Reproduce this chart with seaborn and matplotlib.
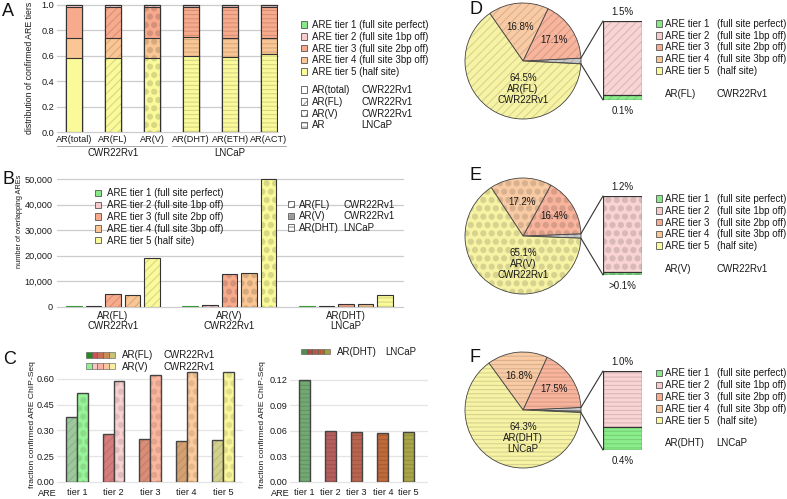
import matplotlib
matplotlib.use('Agg')
import matplotlib.pyplot as plt
import matplotlib.hatch as mhatch
import matplotlib.colors as mcolors
import matplotlib.transforms as mtransforms
from matplotlib.patches import Patch, ConnectionPatch
from matplotlib.lines import Line2D
from matplotlib.legend_handler import HandlerTuple
import seaborn as sns
import pandas as pd
import numpy as np

# ---------------- data ----------------
TIER_NAMES = ['ARE tier 1', 'ARE tier 2', 'ARE tier 3', 'ARE tier 4', 'ARE tier 5']
TIER_DESC = ['(full site perfect)', '(full site 1bp off)', '(full site 2bp off)',
             '(full site 3bp off)', '(half site)']
TIER_COLORS = ['#86E886', '#F9CACA', '#F8AA8C', '#FAC693', '#FAFA9A']

# Panel A: distribution of confirmed ARE tiers
A_SAMPLES = ['AR(total)', 'AR(FL)', 'AR(V)', 'AR(DHT)', 'AR(ETH)', 'AR(ACT)']
A_CELLS = ['CWR22Rv1', 'CWR22Rv1', 'CWR22Rv1', 'LNCaP', 'LNCaP', 'LNCaP']
A_TIER1 = [0.004, 0.004, 0.005, 0.005, 0.005, 0.005]
A_TIER2 = [0.011, 0.011, 0.010, 0.010, 0.010, 0.010]
A_TIER3 = [0.250, 0.250, 0.250, 0.240, 0.245, 0.245]
A_TIER4 = [0.150, 0.150, 0.150, 0.150, 0.150, 0.125]
A_TIER5 = [0.585, 0.585, 0.585, 0.595, 0.590, 0.615]
A_LEG2_NAMES = ['AR(total)', 'AR(FL)', 'AR(V)', 'AR']
A_LEG2_CELLS = ['CWR22Rv1', 'CWR22Rv1', 'CWR22Rv1', 'LNCaP']

# Panel B: number of overlapping AREs
B_SAMPLES = ['AR(FL)\nCWR22Rv1', 'AR(V)\nCWR22Rv1', 'AR(DHT)\nLNCaP']
B_TIER1 = [200, 350, 150]
B_TIER2 = [350, 800, 200]
B_TIER3 = [5000, 12700, 1100]
B_TIER4 = [4750, 13100, 1100]
B_TIER5 = [19250, 50300, 4600]
B_LEG2_NAMES = ['AR(FL)', 'AR(V)', 'AR(DHT)']
B_LEG2_CELLS = ['CWR22Rv1', 'CWR22Rv1', 'LNCaP']

# Panel C: fraction confirmed ARE ChIP-Seq
C_TIERS = ['tier 1', 'tier 2', 'tier 3', 'tier 4', 'tier 5']
C_FL = [0.376, 0.280, 0.248, 0.238, 0.242]
C_V = [0.516, 0.586, 0.625, 0.640, 0.640]
C_DHT = [0.120, 0.060, 0.0585, 0.058, 0.0585]
C_LEFT_YTICKLABELS = ['0.00', '0.25', '0.30', '0.45', '0.60']
C_FL_COLORS = ['#9CC89C', '#D67C7C', '#D98C76', '#D4A070', '#D2D08C']
C_V_COLORS = ['#98F498', '#F9D0D0', '#FBB69E', '#FBCB9C', '#FAF79A']
C_DHT_COLORS = ['#72A872', '#B65E5E', '#B8644F', '#C0693A', '#A8A546']
C_FL_LEG = ['#1E8C1E', '#C85454', '#C86C54', '#C88C54', '#C8C274']
C_V_LEG = ['#90F090', '#F8C4C4', '#F8B0A0', '#F8C8A0', '#F8F0A0']
C_DHT_LEG = ['#4E8E4E', '#B04848', '#B05A48', '#B86030', '#A0A040']

# Panels D-F: pie of ARE tiers
PIE_FL = [0.1, 1.5, 17.1, 16.8, 64.5]
PIE_V = [0.04, 1.2, 16.4, 17.2, 65.1]
PIE_DHT = [0.4, 1.0, 17.5, 16.8, 64.3]
PIE_SMALL_FL = ['1.5%', '0.1%']
PIE_SMALL_V = ['1.2%', '>0.1%']
PIE_SMALL_DHT = ['1.0%', '0.4%']
PIE_COLORS = ['#C8C8C8', '#C8C8C8', '#F8B49C', '#F9CBA4', '#F7F3A4']
MINI_COLORS = ['#8AEE8A', '#F9D4D4']

# ---------------- setup ----------------
sns.set_theme(style='white')
plt.rcParams['font.family'] = ['Liberation Sans', 'DejaVu Sans']
plt.rcParams['hatch.linewidth'] = 0.8
mhatch.SmallFilledCircles.size = 0.3

W, H = 787, 499
fig = plt.figure(figsize=(7.87, 4.99), dpi=100)
TXT = '#1A1A1A'


def rect(x0, y0, x1, y1):
    return [x0 / W, 1 - y1 / H, (x1 - x0) / W, (y1 - y0) / H]


def fx(x):
    return x / W


def fy(y):
    return 1 - y / H


def darker(c, f=0.86):
    r, g, b = mcolors.to_rgb(c)
    return (r * f, g * f, b * f)


def style_patch(p, face, hatch, hc, edge='#333333', lw=0.8):
    p.set_facecolor(face)
    p.set_edgecolor(edge)
    p.set_linewidth(lw)
    if hatch:
        p.set_hatch(hatch)
        if hasattr(p, 'set_hatchcolor'):
            p.set_hatchcolor(hc)
        else:
            p._hatch_color = mcolors.to_rgba(hc)


def style_axes(ax, grid='#CCCCCC', lw=0.9, pad=2):
    sns.despine(ax=ax, left=True, bottom=True)
    ax.set_axisbelow(True)
    ax.yaxis.grid(True, color=grid, linewidth=lw)
    ax.xaxis.grid(False)
    ax.tick_params(axis='both', length=0, labelsize=6.6, colors=TXT, pad=pad)
    ax.set_xlabel('')
    ax.set_ylabel('')


def clip_grid(ax):
    for gl in ax.get_ygridlines():
        gl.set_clip_on(False)


def legend(handles, labels, x, ytop, **kw):
    opts = dict(loc='upper left', bbox_to_anchor=(fx(x), fy(ytop)),
                frameon=False, borderpad=0, borderaxespad=0, fontsize=7,
                handlelength=0.65, handleheight=0.65, handletextpad=0.5,
                labelspacing=0.18, labelcolor=TXT)
    opts.update(kw)
    return fig.legend(handles, labels, **opts)


def text_legend(labels, x, ytop, **kw):
    hs = [Patch(visible=False) for _ in labels]
    return legend(hs, labels, x, ytop, handlelength=0, handletextpad=0, **kw)


def hatch_handles(hatches):
    hs = []
    for h in hatches:
        pp = Patch()
        style_patch(pp, 'white', h, '#9A9A9A', edge='#555555', lw=0.6)
        hs.append(pp)
    return hs


# ---------------- Panel A ----------------
A_HATCH = ['', '////', '..', '----', '----', '----']
axA = fig.add_axes(rect(57, 4.1, 278, 132))
A_VALS = np.array([A_TIER1, A_TIER2, A_TIER3, A_TIER4, A_TIER5])
for i in range(5):
    top = A_VALS[i:].sum(axis=0)
    sns.barplot(x=A_SAMPLES, y=top, color=TIER_COLORS[i], saturation=1,
                width=0.41, errorbar=None, ax=axA)
    for p in axA.containers[-1]:
        j = int(round(p.get_x() + p.get_width() / 2))
        style_patch(p, TIER_COLORS[i], A_HATCH[j], darker(TIER_COLORS[i]))
style_axes(axA, pad=2)
axA.set_ylim(0, 1.005)
axA.set_xlim(-0.44, 5.23)
axA.set_yticks(np.arange(0, 1.01, 0.2))
axA.set_yticklabels([f'{t:.1f}' for t in np.arange(0, 1.01, 0.2)])
clip_grid(axA)
axA.set_ylabel('distribution of confirmed ARE tiers', fontsize=6.3, color=TXT)
axA.yaxis.set_label_coords(-0.104, 0.5)

transA = mtransforms.blended_transform_factory(axA.transData, axA.transAxes)
for cell in ['CWR22Rv1', 'LNCaP']:
    idx = [k for k, c in enumerate(A_CELLS) if c == cell]
    x0 = idx[0] - (0.44 if idx[0] == 0 else 0.49)
    x1 = idx[-1] + 0.38 if idx[0] == 0 else idx[-1] + 0.44
    ln = Line2D([x0, x1], [-0.11, -0.11], transform=transA,
                color='#9A9A9A', lw=0.6, clip_on=False)
    axA.add_line(ln)
    axA.text((idx[0] + idx[-1]) / 2, -0.165, cell, transform=transA, ha='center',
             va='center', fontsize=7, color=TXT)

hA1 = [Patch(facecolor=c, edgecolor='#555555', linewidth=0.6) for c in TIER_COLORS]
legend(hA1, [f'{n} {d}' for n, d in zip(TIER_NAMES, TIER_DESC)], 300.7, 20)
legend(hatch_handles(['', '////', '..', '----']), A_LEG2_NAMES, 300.7, 85)
text_legend(A_LEG2_CELLS, 361.7, 85)

# ---------------- Panel B ----------------
B_HATCH = ['////', '..', '----']
axB = fig.add_axes(rect(57, 178.0, 403, 306.7))
B_VALS = [B_TIER1, B_TIER2, B_TIER3, B_TIER4, B_TIER5]
rows = []
for i, tname in enumerate(TIER_NAMES):
    for j, s in enumerate(B_SAMPLES):
        rows.append((s, tname, B_VALS[i][j]))
dfB = pd.DataFrame(rows, columns=['sample', 'tier', 'count'])
sns.barplot(data=dfB, x='sample', y='count', hue='tier', order=B_SAMPLES,
            hue_order=TIER_NAMES, palette=TIER_COLORS, saturation=1, width=0.84,
            gap=0.2, errorbar=None, legend=False, ax=axB)
for p in axB.patches:
    xc = p.get_x() + p.get_width() / 2
    j = int(round(xc))
    i = int(round((xc - j) / 0.168 + 2))
    edge = '#3A9A3A' if i == 0 else '#333333'
    style_patch(p, TIER_COLORS[i], B_HATCH[j], darker(TIER_COLORS[i]), edge=edge)
style_axes(axB, pad=3)
axB.set_ylim(0, 50500)
axB.set_xlim(-0.48, 2.49)
axB.set_yticks(np.arange(0, 50001, 10000))
axB.set_yticklabels([f'{int(t):,}' for t in np.arange(0, 50001, 10000)])
for t in axB.get_xticklabels():
    t.set_fontsize(7)
    t.set_linespacing(1.05)
clip_grid(axB)
axB.set_ylabel('number of overlapping AREs', fontsize=5.3, color=TXT)
axB.yaxis.set_label_coords((23.5 - 57) / 346, (306.7 - 221) / 128.7)

legend([Patch(facecolor=c, edgecolor='#555555', linewidth=0.6) for c in TIER_COLORS],
       [f'{n} {d}' for n, d in zip(TIER_NAMES, TIER_DESC)], 95, 188.5,
       handletextpad=0.6)
legend(hatch_handles(B_HATCH), B_LEG2_NAMES, 288, 199.5, handletextpad=0.5)
text_legend(B_LEG2_CELLS, 343, 199.5)

# ---------------- Panel C (left) ----------------
axC = fig.add_axes(rect(57, 368.7, 242, 481.7))
rows = []
for j, t in enumerate(C_TIERS):
    rows.append((t, 'AR(FL)', C_FL[j]))
    rows.append((t, 'AR(V)', C_V[j]))
dfC = pd.DataFrame(rows, columns=['tier', 'sample', 'frac'])
sns.barplot(data=dfC, x='tier', y='frac', hue='sample', order=C_TIERS,
            hue_order=['AR(FL)', 'AR(V)'], width=0.58, gap=0, saturation=1,
            errorbar=None, legend=False, ax=axC)
for p in axC.patches:
    xc = p.get_x() + p.get_width() / 2
    j = int(round(xc))
    if xc < j:
        style_patch(p, C_FL_COLORS[j], '////', darker(C_FL_COLORS[j], 0.9),
                    edge='#444444', lw=1.0)
    else:
        style_patch(p, C_V_COLORS[j], '..', darker(C_V_COLORS[j], 0.9),
                    edge='#444444', lw=1.0)
style_axes(axC, grid='#E4E4E4', pad=4.5)
axC.set_ylim(0, 0.66)
axC.set_xlim(-0.55, 4.52)
axC.set_yticks([0, 0.15, 0.30, 0.45, 0.60])
axC.set_yticklabels(C_LEFT_YTICKLABELS)
axC.tick_params(axis='y', pad=2)
clip_grid(axC)
axC.set_ylabel('fraction confirmed ARE ChIP-Seq', fontsize=6.1, color=TXT)
axC.yaxis.set_label_coords((35.5 - 57) / 185, (481.7 - 425) / 113)
fig.text(fx(47.5), fy(493.3), 'ARE', ha='center', va='center', fontsize=6.6, color=TXT)

hFL = tuple(Patch(facecolor=c, edgecolor='#555555', linewidth=0.4) for c in C_FL_LEG)
hV = tuple(Patch(facecolor=c, edgecolor='#555555', linewidth=0.4) for c in C_V_LEG)
legend([hFL, hV], ['AR(FL)', 'AR(V)'], 85.7, 350.5,
       handler_map={tuple: HandlerTuple(ndivide=None, pad=0)},
       handlelength=3.0, handleheight=0.55, handletextpad=0.7, labelspacing=0.13)
text_legend(['CWR22Rv1', 'CWR22Rv1'], 163, 350.5, handleheight=0.55, labelspacing=0.13)

# ---------------- Panel C (right) ----------------
axC2 = fig.add_axes(rect(290, 371.5, 427, 481.7))
sns.barplot(x=C_TIERS, y=C_DHT, width=0.42, color=C_DHT_COLORS[0], saturation=1,
            errorbar=None, ax=axC2)
for p in axC2.patches:
    j = int(round(p.get_x() + p.get_width() / 2))
    style_patch(p, C_DHT_COLORS[j], '----', darker(C_DHT_COLORS[j], 0.88),
                edge='#444444', lw=1.0)
style_axes(axC2, grid='#E4E4E4', pad=4.5)
axC2.set_ylim(0, 0.13)
axC2.set_xlim(-0.565, 4.7)
axC2.set_yticks([0, 0.03, 0.06, 0.09, 0.12])
axC2.set_yticklabels([f'{t:.2f}' for t in [0, 0.03, 0.06, 0.09, 0.12]])
axC2.tick_params(axis='y', pad=2)
clip_grid(axC2)
axC2.set_ylabel('fraction confirmed ARE ChIP-Seq', fontsize=6.1, color=TXT)
axC2.yaxis.set_label_coords((266.5 - 290) / 137, (481.7 - 425) / 110.2)
fig.text(fx(280.8), fy(493.3), 'ARE', ha='center', va='center', fontsize=6.6, color=TXT)

hDHT = tuple(Patch(facecolor=c, edgecolor='#555555', linewidth=0.4) for c in C_DHT_LEG)
legend([hDHT], ['AR(DHT)'], 300.7, 347,
       handler_map={tuple: HandlerTuple(ndivide=None, pad=0)},
       handlelength=3.0, handleheight=0.55, handletextpad=0.7)
text_legend(['LNCaP'], 385, 347, handleheight=0.55)


# ---------------- Panels D-F ----------------
def pie_panel(cy, vals, small_labels, sample, cell, hatch, bar_top, leg_top, name_y):
    cx, r, half = 523, 58, 66
    ax = fig.add_axes(rect(cx - half, cy - half, cx + half, cy + half))
    small = vals[0] + vals[1]
    start = -small / sum(vals) * 360 / 2
    wedges, _ = ax.pie(vals, colors=PIE_COLORS, startangle=start, counterclock=True,
                       radius=1, wedgeprops=dict(edgecolor='#444444', linewidth=0.6))
    for w, c in zip(wedges, PIE_COLORS):
        style_patch(w, c, hatch, darker(c, 0.87), edge='#444444', lw=0.6)
    lim = half / r
    ax.set_xlim(-lim, lim)
    ax.set_ylim(-lim, lim)
    ax.set_axis_off()
    for k, rr in ((2, 0.64), (3, 0.59)):
        w = wedges[k]
        ang = np.deg2rad((w.theta1 + w.theta2) / 2)
        ax.text(rr * np.cos(ang), rr * np.sin(ang), f'{vals[k]:.1f}%', ha='center',
                va='center', fontsize=7, color=TXT)
    ax.text(0, -0.48, f'{vals[4]:.1f}%\n{sample}\n{cell}', ha='center', va='center',
            fontsize=7, color=TXT, linespacing=1.15)

    axb = fig.add_axes(rect(603, bar_top, 641.7, bar_top + 79))
    tot = vals[0] + vals[1]
    sns.barplot(x=['x'], y=[tot], color=MINI_COLORS[1], width=1, saturation=1,
                errorbar=None, ax=axb)
    sns.barplot(x=['x'], y=[vals[0]], color=MINI_COLORS[0], width=1, saturation=1,
                errorbar=None, ax=axb)
    for p, c in zip(axb.patches, [MINI_COLORS[1], MINI_COLORS[0]]):
        style_patch(p, c, hatch, darker(c, 0.87), edge='#333333', lw=0.9)
    axb.set_xlim(-0.5, 0.5)
    axb.set_ylim(0, tot)
    axb.set_axis_off()
    axb.text(0.5, 1.05, small_labels[0], transform=axb.transAxes, ha='center',
             va='bottom', fontsize=7, color=TXT)
    axb.text(0.5, -0.07, small_labels[1], transform=axb.transAxes, ha='center',
             va='top', fontsize=7, color=TXT)
    a_top = np.deg2rad(wedges[1].theta2)
    a_bot = np.deg2rad(wedges[0].theta1)
    for a, yb in ((a_top, 1), (a_bot, 0)):
        con = ConnectionPatch(xyA=(np.cos(a), np.sin(a)), coordsA=ax.transData,
                              xyB=(0, yb), coordsB=axb.transAxes, color='#333333',
                              lw=0.8)
        fig.add_artist(con)

    hs = [Patch(facecolor=c, edgecolor='#555555', linewidth=0.6) for c in TIER_COLORS]
    legend(hs, TIER_NAMES, 655.7, leg_top, handletextpad=0.35)
    text_legend(TIER_DESC, 716.7, leg_top)
    fig.text(fx(665), fy(name_y), sample, ha='left', va='center', fontsize=7, color=TXT)
    fig.text(fx(716.7), fy(name_y), cell, ha='left', va='center', fontsize=7, color=TXT)


pie_panel(61, PIE_FL, PIE_SMALL_FL, 'AR(FL)', 'CWR22Rv1', '////', 21, 19, 94.3)
pie_panel(236, PIE_V, PIE_SMALL_V, 'AR(V)', 'CWR22Rv1', '..', 196, 194, 269)
pie_panel(410, PIE_DHT, PIE_SMALL_DHT, 'AR(DHT)', 'LNCaP', '----', 371, 368.5, 443.3)

# ---------------- panel letters ----------------
for lab, x, y in (('A', 2, 12), ('B', 3, 180), ('C', 3, 360),
                  ('D', 470, 10), ('E', 470, 176), ('F', 470, 357)):
    fig.text(fx(x), fy(y), lab, ha='left', va='center', fontsize=13, color='#111111')

fig.savefig('out.png', dpi=100)
